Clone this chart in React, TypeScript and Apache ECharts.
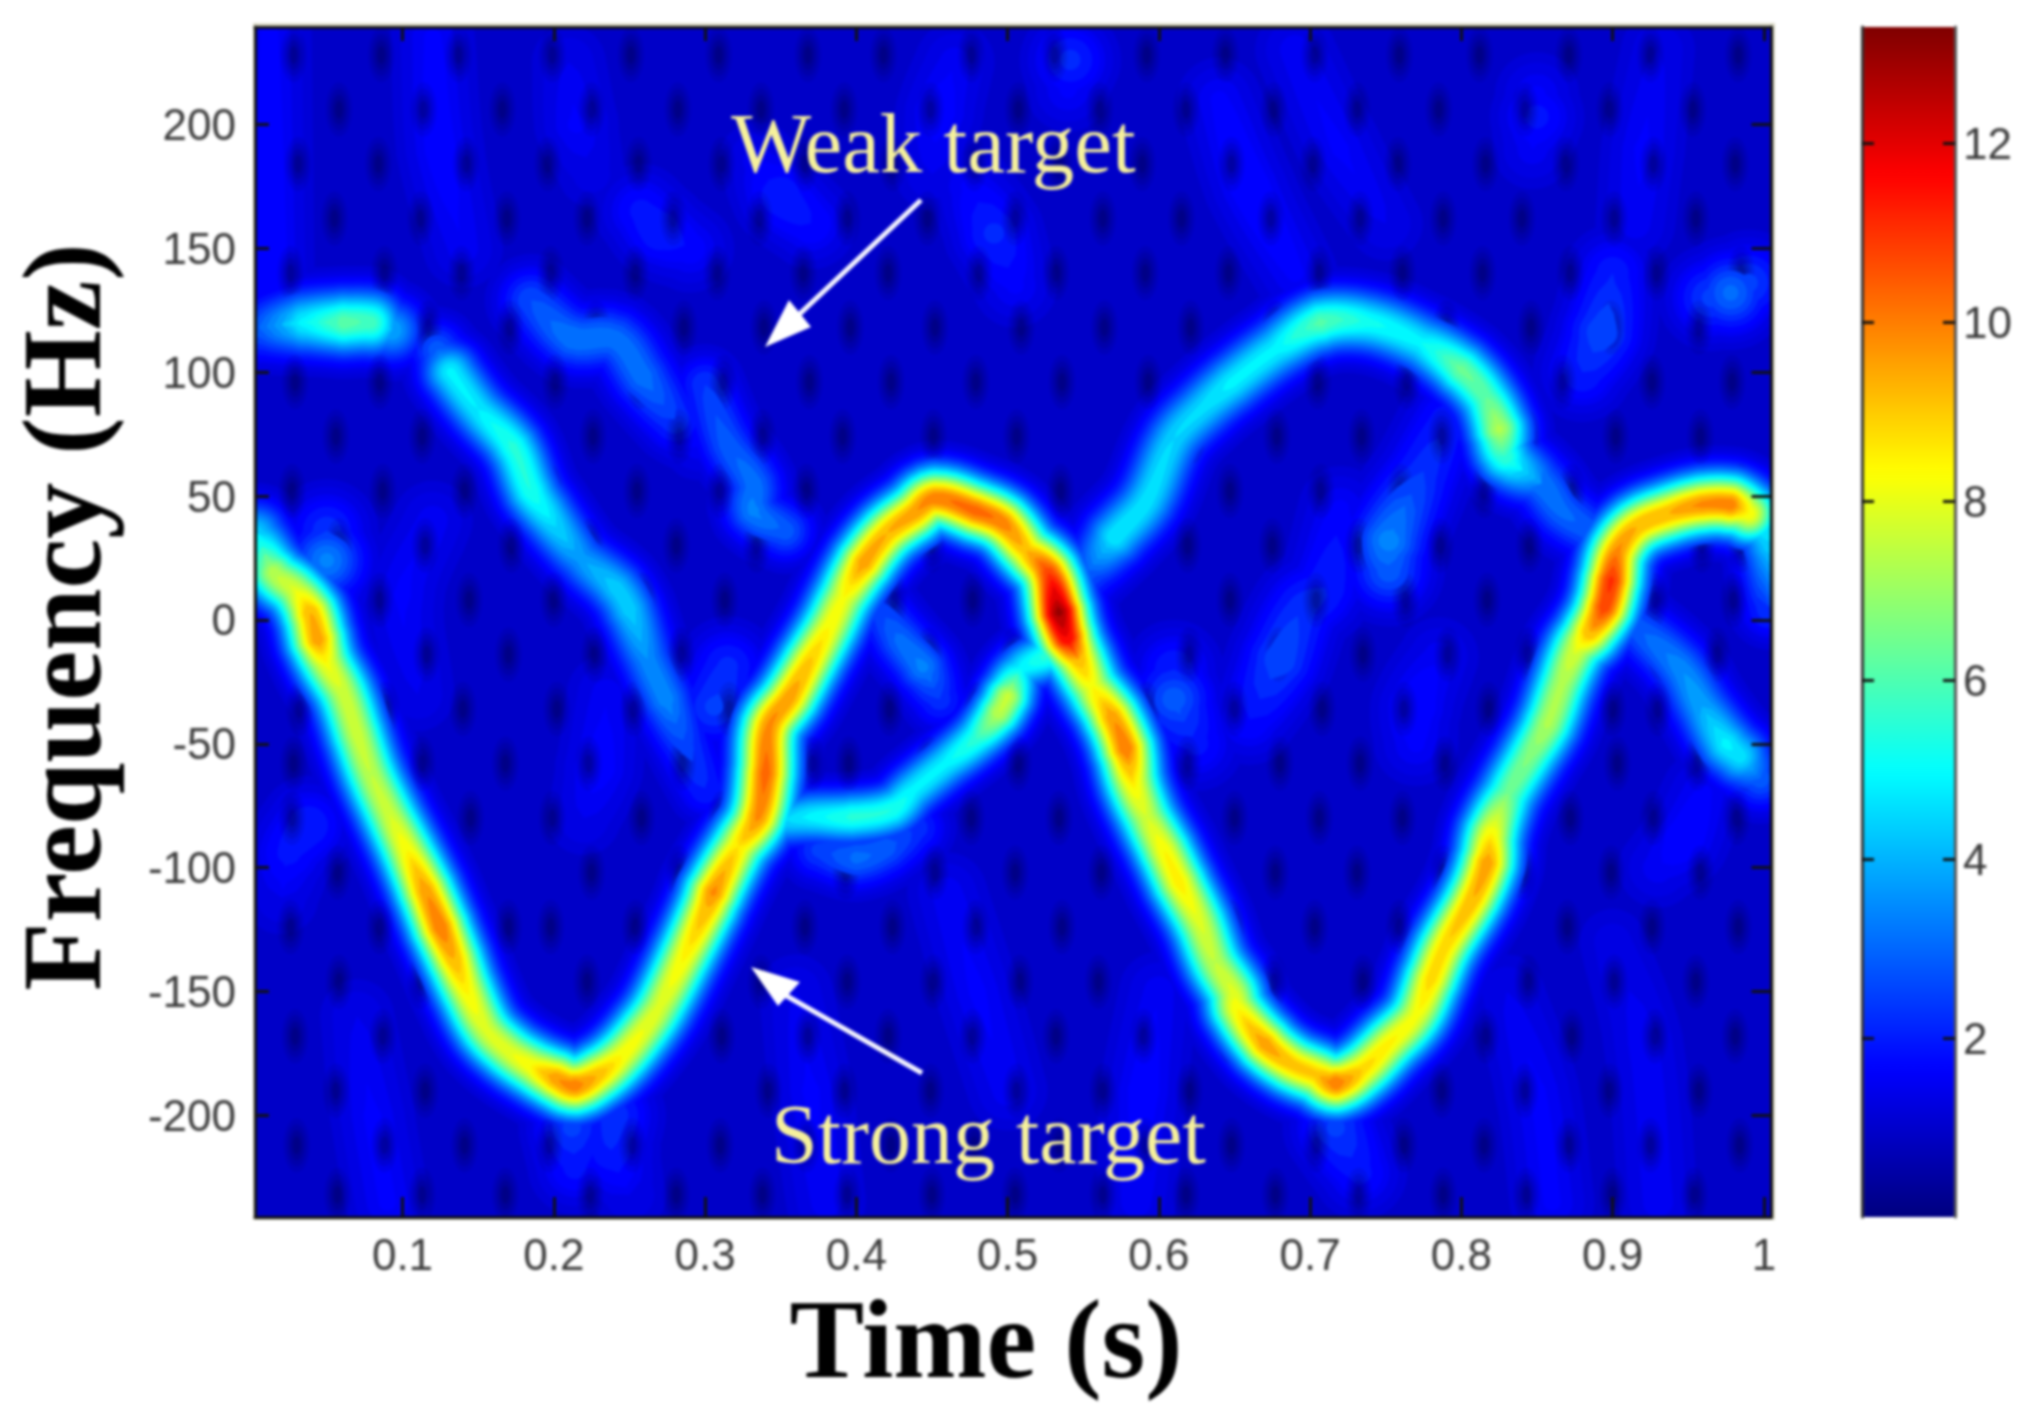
import { useEffect, useRef } from 'react';
import * as echarts from 'echarts';

// axis ticks
const timeTicks = [0.1, 0.2, 0.3, 0.4, 0.5, 0.6, 0.7, 0.8, 0.9, 1];
const freqTicks = [-200, -150, -100, -50, 0, 50, 100, 150, 200];
const barTicks = [2, 4, 6, 8, 10, 12];

// ridges: [time, frequency, magnitude]
const strongTarget = [
  [0.0035, 35, 4.5], [0.015, 19, 7.5], [0.029, 12, 8], [0.039, 3, 9.5], [0.044, -8, 9.8], [0.05, -17.5, 8.3],
  [0.061, -29.6, 7.8], [0.07, -46, 7.8], [0.079, -62, 7.6], [0.091, -78, 7.8], [0.103, -93, 8.5], [0.115, -109, 9.8],
  [0.125, -124, 10.3], [0.134, -137, 9.5], [0.142, -149, 8.6], [0.155, -165, 8], [0.17, -174, 8.1], [0.185, -180, 8.5],
  [0.201, -185, 9.8], [0.214, -188, 10.2], [0.231, -183, 9.3], [0.245, -176, 8.5], [0.26, -165, 8.2], [0.27, -156, 8],
  [0.287, -135, 8.6], [0.3016, -116, 9.5], [0.3056, -110, 10], [0.322, -91.5, 8.8], [0.335, -79.5, 10], [0.34, -62, 10.5],
  [0.3425, -43, 10], [0.356, -31, 9.8], [0.369, -17, 9.2], [0.382, -3, 8.5], [0.3915, 9, 8.3], [0.405, 23, 9.8],
  [0.4205, 35, 9.5], [0.438, 43, 9.8], [0.452, 49, 10.2], [0.479, 44, 10.5], [0.497, 39, 10.2], [0.5125, 28, 9.3],
  [0.527, 19, 11], [0.534, 3, 13.2], [0.539, -7, 12], [0.547, -16, 9.5], [0.556, -27, 8.3], [0.569, -39, 9.8],
  [0.578, -52, 10.3], [0.583, -66, 8.6], [0.592, -79.5, 7.8], [0.6035, -93, 8.5], [0.6135, -106, 8.7], [0.627, -122, 8],
  [0.637, -138, 7.6], [0.649, -150, 8], [0.652, -157, 8.5], [0.67, -171, 9.8], [0.687, -179, 9.3], [0.704, -183.5, 9.2],
  [0.717, -187, 10.3], [0.7345, -181.5, 9], [0.752, -171, 8.6], [0.7695, -160, 8.3], [0.78, -145, 9], [0.789, -132, 9],
  [0.808, -112, 9.5], [0.817, -98, 9.8], [0.82, -86, 8.5], [0.831, -70, 6.5], [0.845, -55, 6.8], [0.857, -42, 7.4],
  [0.8667, -25.5, 7.4], [0.876, -12, 8], [0.885, -5, 9.5], [0.8945, 5, 11], [0.899, 16, 11.2], [0.9035, 28, 10],
  [0.916, 37.5, 9.5], [0.937, 43, 9.5], [0.959, 46.5, 10], [0.978, 46.5, 10.2], [0.99, 43, 8.5], [0.9975, 39, 5],
  [1.004, 30, 4.5], [1.004, 5, 2.5],
];
const weakBlob = [
  [0.005, 118, 3], [0.035, 120, 5], [0.061, 120, 6.3], [0.079, 120, 6], [0.093, 117, 4],
];
const weakFalling = [
  [0.123, 109, 3], [0.132, 100, 5], [0.15, 85, 4.9], [0.173, 70, 5.6], [0.185, 52, 5.5], [0.194, 44, 5],
  [0.218, 25, 3.8], [0.241, 13, 4.5], [0.25, 4, 4.5], [0.262, -16, 3.6], [0.274, -32, 3.6], [0.288, -52, 2.6], [0.3, -68, 2.2],
];
const weakShoulder = [
  [0.185, 129, 2.8], [0.212, 114, 3.4], [0.241, 113, 3.3], [0.259, 98, 3.3], [0.28, 81, 2.5], [0.295, 70, 1.6],
];
const weakMiddle = [
  [0.3, 95, 2.5], [0.315, 71, 3], [0.332, 55, 3.3], [0.332, 44, 3.5], [0.353, 36, 3],
];
const weakInner = [[0.41, 10, 2.4], [0.429, -8, 3.2], [0.444, -19, 3.5], [0.455, -32, 2.4]];
const weakLower = [
  [0.35, -81, 4.5], [0.37, -79.5, 5], [0.397, -79.5, 5.6], [0.424, -76.5, 5.5], [0.438, -68.5, 5], [0.459, -58, 5],
  [0.479, -48, 5.7], [0.494, -37.5, 7.6], [0.5, -31, 7.7], [0.509, -20, 5], [0.524, -15, 5.6],
];
const weakLowerLobe = [[0.375, -93, 2.6], [0.4, -96, 3.2], [0.42, -92, 3], [0.44, -84, 2.4]];
const weakRising = [
  [0.5535, 20, 3], [0.571, 33.5, 4.9], [0.592, 48, 4.8], [0.61, 73, 4.6], [0.63, 86, 4.7], [0.648, 95.5, 5], [0.677, 109, 5],
  [0.707, 120, 6.2], [0.739, 120, 5.3], [0.773, 112, 5], [0.8, 101, 6.5], [0.816, 90, 6.3], [0.825, 77, 7.4],
  [0.829, 66, 5.8], [0.853, 55, 3.4], [0.8667, 44, 3.2], [0.885, 36, 3],
];
const weakTail = [
  [0.916, -3, 3], [0.944, -19, 3.6], [0.959, -35, 4], [0.975, -50, 5], [0.984, -55, 4.8], [0.9975, -64, 3],
];
const faintStreaks = [
  [[0.965, 130, 2.6], [0.978, 132, 3.2], [0.99, 136, 2.6]],
  [[0.88, 100, 2.2], [0.893, 116, 2.8], [0.9, 140, 2.1]],
  [[0.85, 212, 1.7], [0.85, 203, 2], [0.847, 190, 1.6]],
  [[0.5415, 232, 1.7], [0.5415, 226, 2.3], [0.54, 214, 1.7]],
  [[0.335, 185, 1.6], [0.35, 171, 2.2], [0.37, 160, 1.9]],
  [[0.475, 175, 1.7], [0.491, 156, 2.3], [0.505, 135, 1.7]],
  [[0.465, 225, 1.6], [0.455, 205, 1.8], [0.45, 180, 1.5]],
  [[0.64, 210, 1.7], [0.66, 175, 1.9], [0.69, 140, 1.7]],
  [[0.258, 165, 2], [0.27, 157, 2.2], [0.29, 150, 1.8]],
  [[0.21, 225, 1.5], [0.215, 200, 1.7], [0.225, 180, 1.4]],
  [[0.61, -20, 2.2], [0.61, -32, 3], [0.625, -50, 2]],
  [[0.66, -40, 1.9], [0.68, -16, 2.8], [0.695, 5, 2.4], [0.71, 13, 2.2], [0.72, 45, 1.7]],
  [[0.752, 20, 3], [0.752, 32, 3.6], [0.775, 60, 2.4], [0.79, 80, 2.1]],
  [[0.306, -35, 2.6], [0.315, -19, 2.3]],
  [[0.77, -50, 1.7], [0.77, -35, 1.9], [0.785, -15, 1.6]],
  [[0.93, -100, 1.6], [0.947, -89, 1.9], [0.96, -70, 1.7]],
  [[0.038, -83, 2.2], [0.025, -94, 2], [0.02, -112, 1.5]],
  [[0.05, 36, 2.4], [0.05, 24, 3.5], [0.05, 16, 2.4]],
  [[0.212, -205, 2.6], [0.214, -221, 2]],
  [[0.24, -200, 2.4], [0.238, -214, 2.2], [0.25, -232, 1.5]],
  [[0.717, -205, 2.6], [0.733, -223, 2]],
  [[0.22, -80, 1.5], [0.23, -60, 1.8], [0.235, -30, 1.6]],
  [[0.12, 40, 1.6], [0.1, 10, 1.7], [0.11, -30, 1.5]],
  [[0.46, -110, 1.6], [0.48, -150, 1.7], [0.5, -190, 1.6]],
  [[0.6, -150, 1.6], [0.59, -190, 1.8], [0.585, -235, 1.6]],
  [[0.36, -150, 1.5], [0.37, -190, 1.7], [0.38, -235, 1.6]],
  [[0.07, -160, 1.5], [0.08, -200, 1.7], [0.09, -235, 1.7]],
  [[0.83, -150, 1.5], [0.85, -190, 1.7], [0.86, -235, 1.7]],
  [[0.012, 240, 1.7], [0.012, 170, 1.8], [0.012, 120, 1.9]],
  [[0.12, 235, 1.7], [0.125, 190, 1.8], [0.14, 150, 1.6]],
  [[0.69, 230, 1.6], [0.72, 190, 1.7], [0.75, 160, 1.5]],
  [[0.93, 230, 1.5], [0.92, 190, 1.7], [0.915, 160, 1.6]],
  [[0.9, -130, 1.4], [0.92, -170, 1.6], [0.93, -235, 1.6]],
];

// dark pits in the noise floor: a frequency, then the times it shows at (ms)
const noisePits = [
  [228, 28, 86, 137, 199, 251, 309, 368, 418, 476, 531, 592, 644, 703, 759, 812, 871, 925, 983],
  [206, 58, 114, 166, 225, 282, 337, 392, 449, 507, 561, 618, 676, 731, 785, 842, 898, 953],
  [184, 31, 84, 142, 196, 256, 311, 366, 424, 478, 534, 589, 648, 702, 758, 816, 869, 927, 981],
  [162, 55, 112, 169, 222, 279, 336, 394, 447, 505, 563, 615, 674, 733, 788, 840, 901, 955],
  [140, 26, 88, 139, 198, 254, 308, 365, 421, 481, 532, 591, 646, 706, 761, 814, 872, 929, 985],
  [118, 117, 171, 228, 286, 339, 396, 452, 509, 564, 621, 677, 790, 846, 899, 957],
  [96, 29, 85, 143, 201, 257, 312, 369, 423, 479, 536, 593, 649, 705, 764, 867, 926, 979],
  [74, 56, 113, 167, 226, 283, 338, 391, 451, 506, 622, 678, 734, 787, 843, 902, 958],
  [52, 27, 87, 141, 197, 255, 310, 367, 535, 594, 647, 707, 760, 815, 873, 984],
  [30, 58, 115, 172, 224, 281, 334, 450, 508, 619, 675, 732, 786, 845, 959, 985],
  [8, 85, 144, 200, 259, 313, 425, 477, 533, 647, 704, 763, 817, 928, 980],
  [-14, 116, 170, 227, 284, 448, 504, 620, 679, 735, 791, 844, 932, 969],
  [-36, 32, 89, 140, 202, 253, 316, 422, 480, 592, 650, 708, 762, 818, 900, 930],
  [-58, 28, 113, 168, 223, 285, 371, 395, 448, 507, 619, 680, 733, 789, 846, 903, 956, 988],
  [-80, 27, 83, 145, 199, 258, 311, 476, 534, 650, 706, 761, 814, 872, 927, 982],
  [-102, 57, 114, 225, 283, 393, 452, 505, 562, 677, 731, 788, 841, 899, 958],
  [-124, 26, 85, 170, 198, 254, 312, 366, 424, 479, 536, 648, 703, 759, 870, 926, 983],
  [-146, 58, 112, 222, 280, 337, 394, 451, 508, 560, 676, 735, 786, 844, 901, 955],
  [-168, 29, 87, 311, 368, 421, 477, 532, 590, 647, 816, 873, 928, 981],
  [-190, 56, 115, 342, 392, 449, 506, 563, 620, 787, 842, 898, 957],
  [-212, 30, 88, 141, 197, 252, 310, 367, 423, 478, 534, 591, 648, 704, 762, 815, 871, 925, 984],
  [-232, 57, 113, 168, 224, 281, 338, 394, 450, 505, 563, 618, 677, 732, 788, 843, 900, 954],
];

const tracks = [
  { sigma: 21, points: strongTarget },
  { sigma: 22, points: weakBlob },
  { sigma: 20, points: weakFalling },
  { sigma: 22, points: weakShoulder },
  { sigma: 20, points: weakMiddle },
  { sigma: 20, points: weakInner },
  { sigma: 18, points: weakLower },
  { sigma: 20, points: weakLowerLobe },
  { sigma: 21, points: weakRising },
  { sigma: 21, points: weakTail },
  ...faintStreaks.map((points) => ({ sigma: 26, points })),
];

const FLOOR = 0.95;
const LEVELS = [
  1.15, 1.3, 1.5, 1.66, 1.9, 2.2, 2.5, 2.8, 3.1, 3.4, 3.7, 4, 4.3, 4.6, 4.9, 5.2, 5.5, 5.8, 6.1, 6.4, 6.7, 7, 7.3,
  7.6, 7.9, 8.2, 8.5, 8.8, 9.1, 9.5, 9.9, 10.3, 10.7, 11.1, 11.5, 12, 12.5, 13,
];
const JET = ['#00007f', '#0000ff', '#007fff', '#00ffff', '#7fff7f', '#ffff00', '#ff7f00', '#ff0000', '#7f0000'];
const SUBSTEPS = 6;

function jet(v: number) {
  const t = Math.min(1, Math.max(0, v / 13.3));
  const r = Math.min(1, Math.max(0, Math.min(4 * t - 1.5, 4.5 - 4 * t)));
  const g = Math.min(1, Math.max(0, Math.min(4 * t - 0.5, 3.5 - 4 * t)));
  const b = Math.min(1, Math.max(0, Math.min(4 * t + 0.5, 2.5 - 4 * t)));
  return `rgb(${Math.round(r * 255)},${Math.round(g * 255)},${Math.round(b * 255)})`;
}

// half width of the band above a level, for a ridge of magnitude a
function halfWidth(a: number, level: number, sigma: number) {
  if (a <= level) return 0;
  return sigma * Math.sqrt(2 * Math.log((a - FLOOR) / (level - FLOOR)));
}

function unit(x: number, y: number) {
  const len = Math.hypot(x, y) || 1;
  return [x / len, y / len];
}

// one custom series per colour level, low levels underneath.
// the band is drawn like a smoothed line through the track's points
function levelSeries(level: number, index: number) {
  const data: number[][] = [];
  tracks.forEach((track, k) => {
    for (let i = 0; i + 1 < track.points.length; i++) {
      const p = track.points[i];
      const q = track.points[i + 1];
      if (p[2] > level || q[2] > level) data.push([p[0], p[1], p[2], q[0], q[1], q[2], k, i]);
    }
  });
  const fill = jet(level);
  return {
    type: 'custom',
    name: 'level ' + level,
    xAxisIndex: 0,
    yAxisIndex: 0,
    clip: true,
    silent: true,
    z: 3 + index,
    data,
    renderItem: (_params: any, api: any) => {
      const track = tracks[api.value(6)];
      const i = api.value(7);
      const pts = track.points;
      const c0 = api.coord(pts[Math.max(0, i - 1)]);
      const c1 = api.coord(pts[i]);
      const c2 = api.coord(pts[i + 1]);
      const c3 = api.coord(pts[Math.min(pts.length - 1, i + 2)]);
      const len = Math.hypot(c2[0] - c1[0], c2[1] - c1[1]);
      const t1 = unit(c2[0] - c0[0], c2[1] - c0[1]);
      const t2 = unit(c3[0] - c1[0], c3[1] - c1[1]);
      const left: number[][] = [];
      const right: number[][] = [];
      for (let s = 0; s <= SUBSTEPS; s++) {
        const u = s / SUBSTEPS;
        const h00 = 2 * u * u * u - 3 * u * u + 1;
        const h10 = u * u * u - 2 * u * u + u;
        const h01 = -2 * u * u * u + 3 * u * u;
        const h11 = u * u * u - u * u;
        const x = h00 * c1[0] + h10 * len * t1[0] + h01 * c2[0] + h11 * len * t2[0];
        const y = h00 * c1[1] + h10 * len * t1[1] + h01 * c2[1] + h11 * len * t2[1];
        const d00 = 6 * u * u - 6 * u;
        const d10 = 3 * u * u - 4 * u + 1;
        const d11 = 3 * u * u - 2 * u;
        const tan = unit(
          d00 * c1[0] + d10 * len * t1[0] - d00 * c2[0] + d11 * len * t2[0],
          d00 * c1[1] + d10 * len * t1[1] - d00 * c2[1] + d11 * len * t2[1],
        );
        const amp = api.value(2) + (api.value(5) - api.value(2)) * u;
        const h = halfWidth(amp, level, track.sigma);
        left.push([x - tan[1] * h, y + tan[0] * h]);
        right.unshift([x + tan[1] * h, y - tan[0] * h]);
      }
      const children: any[] = [{ type: 'polygon', shape: { points: left.concat(right) }, style: { fill } }];
      const ha = halfWidth(api.value(2), level, track.sigma);
      const hb = halfWidth(api.value(5), level, track.sigma);
      // rounds the joints on the outside of a bend, and the ends
      if (ha > 0) children.push({ type: 'circle', shape: { cx: c1[0], cy: c1[1], r: ha }, style: { fill } });
      if (hb > 0 && i + 2 === pts.length) children.push({ type: 'circle', shape: { cx: c2[0], cy: c2[1], r: hb }, style: { fill } });
      return { type: 'group', children };
    },
  };
}

const pitData: number[][] = [];
noisePits.forEach((row) => row.slice(1).forEach((ms) => pitData.push([ms / 1000, row[0], 0.3])));

// sits above the faint levels, below the bright ridges
const pitSeries = {
  type: 'custom',
  name: 'pits',
  xAxisIndex: 0,
  yAxisIndex: 0,
  clip: true,
  silent: true,
  z: 8.5,
  data: pitData,
  renderItem: (_params: any, api: any) => {
    const c = api.coord([api.value(0), api.value(1)]);
    return {
      type: 'group',
      children: [
        { type: 'ellipse', shape: { cx: c[0], cy: c[1], rx: 13, ry: 27 }, style: { fill: 'rgba(0,0,70,0.1)' } },
        { type: 'ellipse', shape: { cx: c[0], cy: c[1], rx: 10, ry: 21 }, style: { fill: 'rgba(0,0,70,0.13)' } },
        { type: 'ellipse', shape: { cx: c[0], cy: c[1], rx: 7, ry: 15 }, style: { fill: 'rgba(0,0,70,0.16)' } },
        { type: 'ellipse', shape: { cx: c[0], cy: c[1], rx: 4, ry: 9 }, style: { fill: 'rgba(0,0,70,0.22)' } },
      ],
    };
  },
};

const LABEL_FONT = '"Liberation Sans", Arial, sans-serif';
const TITLE_FONT = '"Liberation Serif", "Times New Roman", serif';

function App() {
  const chartRef = useRef<HTMLDivElement>(null);

  useEffect(() => {
    if (!chartRef.current) return;
    const chart = echarts.init(chartRef.current, null, { renderer: 'svg' });

    const lineStyle = { color: '#111', width: 3 };
    const tickStyle = { color: '#111', width: 3 };
    const labelStyle = { color: '#3a3a3a', fontSize: 44, fontFamily: LABEL_FONT };

    const option: any = {
      animation: false,
      backgroundColor: '#fff',
      grid: [
        { left: 255, top: 27, width: 1516.5, height: 1190, show: true, backgroundColor: jet(FLOOR), borderWidth: 0 },
        { left: 1862, top: 27, width: 93, height: 1190 },
      ],
      xAxis: [
        {
          type: 'value', gridIndex: 0, position: 'bottom', min: 0.0025, max: 1.005, z: 60,
          axisLine: { onZero: false, lineStyle },
          axisTick: { inside: true, length: 20, lineStyle: tickStyle, customValues: timeTicks },
          axisLabel: { margin: 15, customValues: timeTicks, showMinLabel: true, showMaxLabel: true, ...labelStyle },
          splitLine: { show: false },
        },
        {
          type: 'value', gridIndex: 0, position: 'top', min: 0.0025, max: 1.005, z: 60,
          axisLine: { onZero: false, lineStyle },
          axisTick: { inside: true, length: 14, lineStyle: tickStyle, customValues: timeTicks },
          axisLabel: { show: false },
          splitLine: { show: false },
        },
        { type: 'value', gridIndex: 1, min: 0, max: 1, show: false },
      ],
      yAxis: [
        {
          type: 'value', gridIndex: 0, position: 'left', min: -241, max: 239.3, z: 60,
          axisLine: { onZero: false, lineStyle },
          axisTick: { inside: true, length: 14, lineStyle: tickStyle, customValues: freqTicks },
          axisLabel: { margin: 19, customValues: freqTicks, ...labelStyle },
          splitLine: { show: false },
        },
        {
          type: 'value', gridIndex: 0, position: 'right', min: -241, max: 239.3, z: 60,
          axisLine: { onZero: false, lineStyle },
          axisTick: { inside: true, length: 20, lineStyle: tickStyle, customValues: freqTicks },
          axisLabel: { show: false },
          splitLine: { show: false },
        },
        {
          type: 'value', gridIndex: 1, position: 'left', min: 0, max: 13.3, z: 60,
          axisLine: { onZero: false, lineStyle: { color: '#333', width: 3 } },
          axisTick: { inside: true, length: 12, lineStyle: tickStyle, customValues: barTicks },
          axisLabel: { show: false },
          splitLine: { show: false },
        },
        {
          type: 'value', gridIndex: 1, position: 'right', min: 0, max: 13.3, z: 60,
          axisLine: { onZero: false, lineStyle: { color: '#555', width: 3 } },
          axisTick: { inside: true, length: 12, lineStyle: tickStyle, customValues: barTicks },
          axisLabel: { margin: 8, customValues: barTicks, ...labelStyle },
          splitLine: { show: false },
        },
      ],
      visualMap: {
        type: 'continuous',
        seriesIndex: 0,
        dimension: 2,
        min: 0,
        max: 13.3,
        left: 1862,
        top: 27,
        itemWidth: 93,
        itemHeight: 1190,
        padding: 0,
        calculable: false,
        hoverLink: false,
        inRange: { color: JET },
      },
      series: [...LEVELS.map(levelSeries), pitSeries],
      graphic: {
        elements: [
          { type: 'rect', z: -1, shape: { x: 253, y: 23, width: 1522, height: 1197 }, style: { fill: '#dcdbc8' } },
          {
            type: 'text', z: 100, style: {
              text: 'Weak target', x: 731, y: 143, fill: '#f6f19c', font: `85px ${TITLE_FONT}`, textVerticalAlign: 'middle',
            },
          },
          {
            type: 'text', z: 100, style: {
              text: 'Strong target', x: 771, y: 1134, fill: '#f6f19c', font: `84px ${TITLE_FONT}`, textVerticalAlign: 'middle',
            },
          },
          { type: 'line', z: 100, shape: { x1: 921, y1: 200, x2: 790, y2: 323 }, style: { stroke: '#f4f4ff', lineWidth: 5 } },
          { type: 'polygon', z: 100, shape: { points: [[765, 347], [789, 300], [811, 327]] }, style: { fill: '#fff' } },
          { type: 'line', z: 100, shape: { x1: 922, y1: 1073, x2: 785, y2: 995 }, style: { stroke: '#f4f4ff', lineWidth: 5 } },
          { type: 'polygon', z: 100, shape: { points: [[751, 967], [800, 982], [778, 1006]] }, style: { fill: '#fff' } },
          {
            type: 'text', z: 100, style: {
              text: 'Time (s)', x: 986, y: 1339, fill: '#000', font: `bold 112px ${TITLE_FONT}`, textAlign: 'center', textVerticalAlign: 'middle',
            },
          },
          {
            type: 'text', z: 100, x: 62, y: 617, rotation: Math.PI / 2, style: {
              text: 'Frequency (Hz)', x: 0, y: 0, fill: '#000', font: `bold 112px ${TITLE_FONT}`, textAlign: 'center', textVerticalAlign: 'middle',
            },
          },
        ],
      },
    };

    chart.setOption(option);
    return () => chart.dispose();
  }, []);

  return (
    <div
      ref={chartRef}
      style={{ position: 'absolute', left: 0, top: 0, width: 2033, height: 1419, filter: 'blur(1.6px)' }}
    />
  );
}

export default App;
